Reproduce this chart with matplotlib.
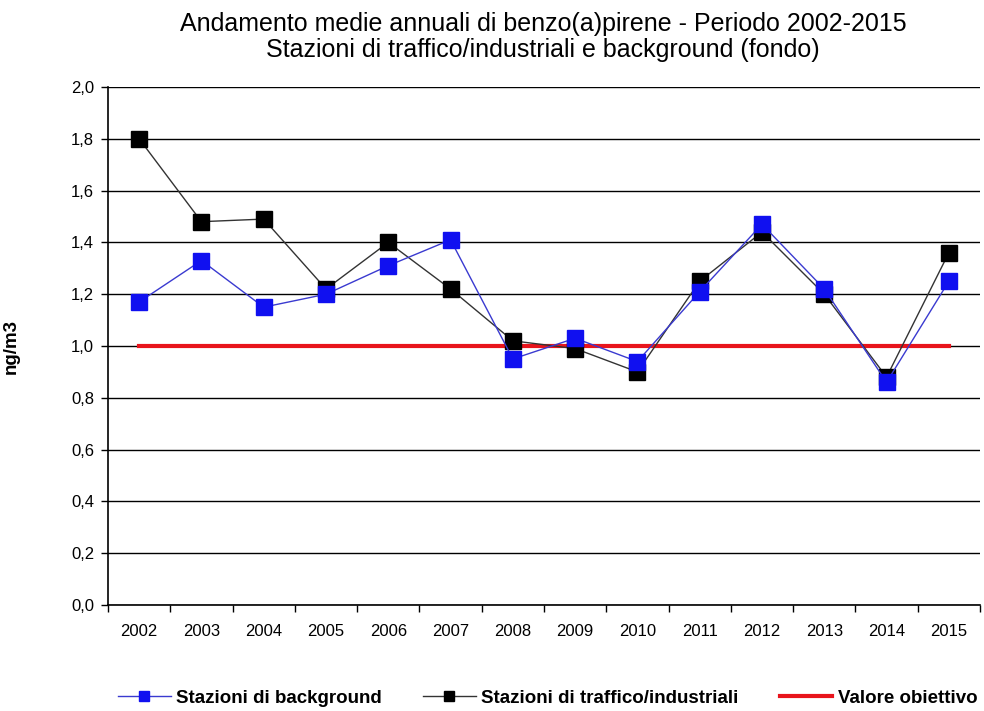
import matplotlib
matplotlib.use("Agg")
import matplotlib.pyplot as plt
import numpy as np

years = ["2002", "2003", "2004", "2005", "2006", "2007", "2008",
         "2009", "2010", "2011", "2012", "2013", "2014", "2015"]
background = [1.17, 1.33, 1.15, 1.20, 1.31, 1.41, 0.95,
              1.03, 0.94, 1.21, 1.47, 1.22, 0.86, 1.25]
traffico = [1.80, 1.48, 1.49, 1.22, 1.40, 1.22, 1.02,
            0.99, 0.90, 1.25, 1.44, 1.20, 0.88, 1.36]
obiettivo = [1.0] * len(years)
yticks = [0.0, 0.2, 0.4, 0.6, 0.8, 1.0, 1.2, 1.4, 1.6, 1.8, 2.0]

plt.rcParams["font.family"] = ["Liberation Sans", "DejaVu Sans"]

fig = plt.figure(figsize=(9.84, 7.11), dpi=100)
ax = fig.add_axes([108 / 984, 1 - 605 / 711, (980 - 108) / 984, (605 - 87) / 711])

x = np.arange(len(years))
ax.set_xlim(-0.5, len(years) - 0.5)
ax.set_ylim(0, 2.0)

for v in yticks:
    ax.axhline(v, color="black", lw=1.0, zorder=1)

ax.plot(x, obiettivo, color="#e8141c", lw=3, zorder=2, label="Valore obiettivo")
ax.plot(x, traffico, color="#333333", lw=1.0, marker="s", ms=11,
        mfc="black", mec="black", zorder=3, label="Stazioni di traffico/industriali")
ax.plot(x, background, color="#3a3ad0", lw=1.0, marker="s", ms=11,
        mfc="#1010f0", mec="#1010f0", zorder=4, label="Stazioni di background")

ax.set_yticks(yticks)
ax.set_yticklabels([f"{v:.1f}".replace(".", ",") for v in yticks], fontsize=12)
ax.set_xticks(x)
ax.set_xticklabels(years, fontsize=12)
ax.set_xticks(np.arange(-0.5, len(years), 1.0), minor=True)
ax.tick_params(axis="x", which="major", length=0, pad=14)
ax.tick_params(axis="x", which="minor", length=5, direction="out", width=1)
ax.tick_params(axis="y", length=5, direction="out", width=1, pad=5)

for s in ["top", "right"]:
    ax.spines[s].set_visible(False)
ax.spines["left"].set_linewidth(1.2)
ax.spines["bottom"].set_linewidth(1.2)

ax.set_ylabel("ng/m3", fontsize=13.5, fontweight="bold")
ax.yaxis.set_label_coords(-0.101, 0.5)

fig.text(0.552, 0.966, "Andamento medie annuali di benzo(a)pirene - Periodo 2002-2015",
         ha="center", va="center", fontsize=18)
fig.text(0.552, 0.93, "Stazioni di traffico/industriali e background (fondo)",
         ha="center", va="center", fontsize=18)

handles, labels = ax.get_legend_handles_labels()
order = [2, 1, 0]
leg = fig.legend([handles[i] for i in order], [labels[i] for i in order],
                 loc="center left", bbox_to_anchor=(118 / 984, 0.018), ncol=3, frameon=False,
                 prop={"weight": "bold", "size": 13.5},
                 handlelength=2.8, columnspacing=2.2, handletextpad=0.3,
                 markerscale=0.6, borderaxespad=0, borderpad=0)

fig.savefig("out.png", dpi=100)
